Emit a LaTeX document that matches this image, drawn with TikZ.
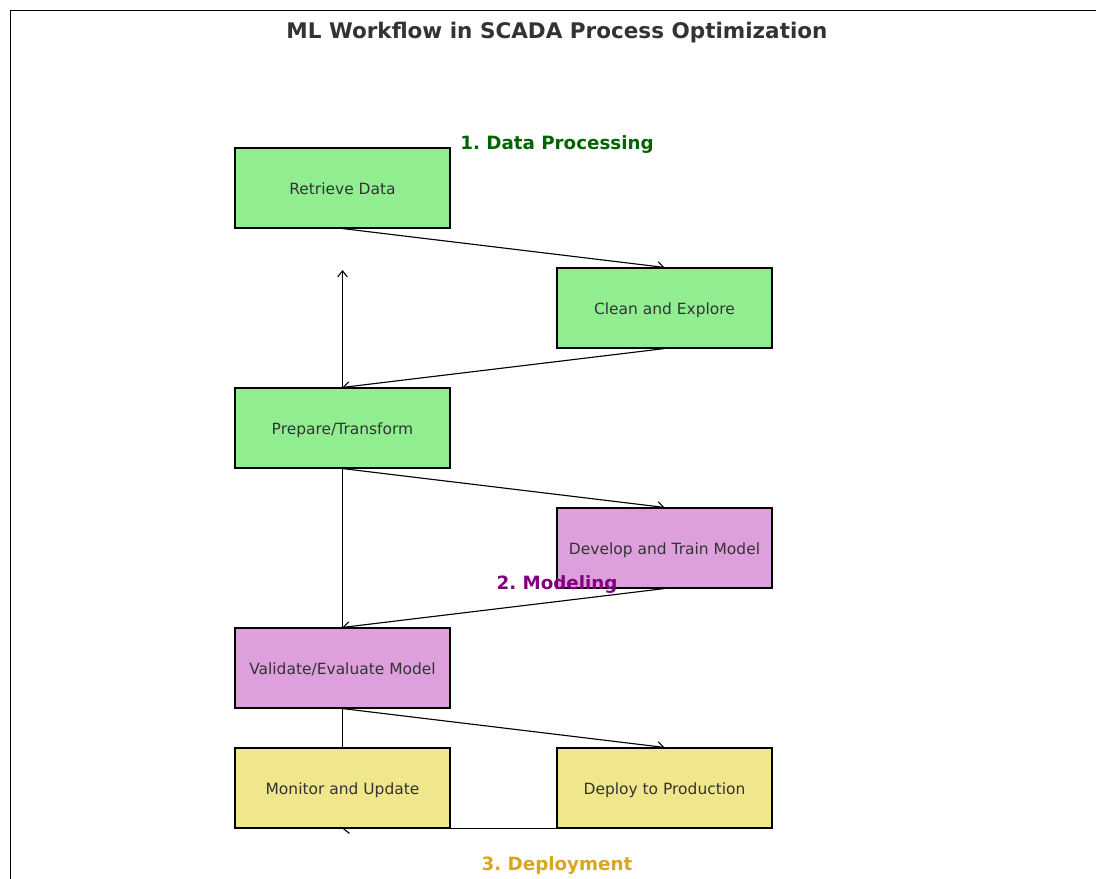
\documentclass[tikz,border=0pt]{standalone}
\usepackage{fontspec}
\setmainfont{DejaVu Sans}
\usetikzlibrary{arrows.meta,backgrounds}
\frenchspacing

\definecolor{inktext}{HTML}{333333}
\definecolor{datagreen}{HTML}{90EE90}
\definecolor{modelplum}{HTML}{DDA0DD}
\definecolor{deploykhaki}{HTML}{F0E68C}
\definecolor{phasegreen}{HTML}{006400}
\definecolor{phasepurple}{HTML}{800080}
\definecolor{phasegold}{HTML}{DAA520}

\begin{document}
\begin{tikzpicture}[x=0.025cm,y=-0.025cm,
    stage/.style={draw=black, line width=0.8pt, minimum width=5.375cm,
        minimum height=2cm, text=inktext, text height=11pt, text depth=1.2pt,
        font=\fontsize{11}{13}\selectfont},
    flow/.style={-{Straight Barb[length=1.5mm,width=2.4mm]}, line width=0.8pt},
    phase/.style={font=\bfseries\fontsize{13}{15}\selectfont}]

    \useasboundingbox (0,0) rectangle (1096,879);

    % frame
    \draw[line width=0.7pt] (1096,10) -- (10,10) -- (10,879);

    % title
    \node[text=inktext, font=\bfseries\fontsize{15.3}{18}\selectfont] (title) at (557,33) {ML Workflow in SCADA Process Optimization};

    % data processing
    \node[phase, text=phasegreen] (dataphase) at (557,145) {1. Data Processing};
    \node[stage, fill=datagreen] (retrieve) at (342.5,188) {Retrieve Data};
    \node[stage, fill=datagreen] (clean) at (664.5,308) {Clean and Explore};
    \node[stage, fill=datagreen] (prepare) at (342.5,428) {Prepare/Transform};

    % modeling
    \node[stage, fill=modelplum] (develop) at (664.5,548) {Develop and Train Model};
    \node[stage, fill=modelplum] (validate) at (342.5,668) {Validate/Evaluate Model};
    \node[phase, text=phasepurple] (modelphase) at (557,585) {2. Modeling};

    % deployment
    \node[stage, fill=deploykhaki] (monitor) at (342.5,788) {Monitor and Update};
    \node[stage, fill=deploykhaki] (deploy) at (664.5,788) {Deploy to Production};
    \node[phase, text=phasegold] (deployphase) at (557,866) {3. Deployment};

    % loop back end
    \coordinate (loopend) at (342.5,270);

    % connectors
    \begin{scope}[on background layer]
        \draw[flow] (retrieve.south) -- (clean.north);
        \draw[flow] (clean.south) -- (prepare.north);
        \draw[flow] (prepare.south) -- (develop.north);
        \draw[flow] (develop.south) -- (validate.north);
        \draw[flow] (validate.south) -- (deploy.north);
        \draw[flow] (deploy.south) -- (monitor.south);
        \draw[flow] (monitor.north) -- (loopend);
    \end{scope}

\end{tikzpicture}
\end{document}
